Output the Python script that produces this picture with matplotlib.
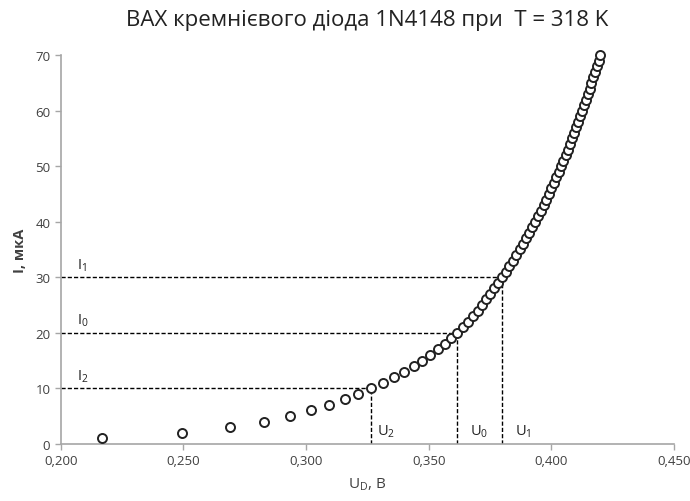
import numpy as np
import matplotlib
matplotlib.use("Agg")
import matplotlib.pyplot as plt
from matplotlib.ticker import FuncFormatter

plt.rcParams['font.family'] = ['Open Sans', 'DejaVu Sans']
plt.rcParams['mathtext.fontset'] = 'custom'
plt.rcParams['mathtext.rm'] = 'Open Sans'

# measured points: current I, мкА and voltage U_D, В
current = list(range(1, 71))
voltage = [
    0.2167, 0.2496, 0.2688, 0.2827, 0.2933, 0.3019, 0.3093, 0.3157, 0.3213, 0.3265,
    0.3314, 0.3358, 0.3400, 0.3438, 0.3473, 0.3506, 0.3536, 0.3565, 0.3591, 0.3617,
    0.3639, 0.3660, 0.3681, 0.3699, 0.3717, 0.3734, 0.3751, 0.3767, 0.3783, 0.3798,
    0.3813, 0.3828, 0.3843, 0.3857, 0.3871, 0.3884, 0.3897, 0.3910, 0.3922, 0.3934,
    0.3945, 0.3957, 0.3968, 0.3979, 0.3990, 0.4000, 0.4010, 0.4020, 0.4029, 0.4039,
    0.4049, 0.4058, 0.4067, 0.4076, 0.4085, 0.4093, 0.4102, 0.4110, 0.4118, 0.4126,
    0.4133, 0.4141, 0.4148, 0.4156, 0.4163, 0.4171, 0.4178, 0.4185, 0.4192, 0.4199,
]

# marked working points (I2, I0, I1) and their voltages
mark_i = [10, 20, 30]
mark_u = [0.3266, 0.3617, 0.3798]
i_names = ['I$_2$', 'I$_0$', 'I$_1$']
u_names = ['U$_2$', 'U$_0$', 'U$_1$']
u_label_x = [0.3291, 0.3668, 0.3850]

fig = plt.figure(figsize=(6.9, 5.02), dpi=100)
ax = fig.add_axes([0.088, 0.114, 0.889, 0.774])

ax.plot(voltage, current, 'o', mfc='white', mec='#222222', ms=6.5, mew=1.4,
        linestyle='none', zorder=3, clip_on=False)

for i, u, nm, ux, un in zip(mark_i, mark_u, i_names, u_label_x, u_names):
    ax.plot([0.2, u], [i, i], color='black', ls=(0, (3, 1.5)), lw=1, zorder=2)
    ax.plot([u, u], [0, i], color='black', ls=(0, (3, 1.5)), lw=1, zorder=2)
    ax.text(0.2065, i + 0.8, nm, fontsize=10.5, color='#222222', va='bottom')
    ax.text(ux, 2.3, un, fontsize=10.5, color='#222222', va='center')

ax.set_xlim(0.2, 0.45)
ax.set_ylim(0, 70)
ax.set_xticks(np.arange(0.2, 0.451, 0.05))
ax.set_yticks(range(0, 71, 10))
ax.xaxis.set_major_formatter(FuncFormatter(lambda v, p: f"{v:.3f}".replace('.', ',')))

for s in ['top', 'right']:
    ax.spines[s].set_visible(False)
for s in ['left', 'bottom']:
    ax.spines[s].set_color('#a6a6a6')
    ax.spines[s].set_linewidth(1.2)
ax.tick_params(direction='out', length=4, width=1, color='#a6a6a6',
               labelsize=9.5, labelcolor='#404040')

ax.set_xlabel('U$_\\mathregular{D}$, В', fontsize=11, color='#404040', labelpad=6)
ax.set_ylabel('I, мкА', fontsize=10.5, color='#404040', fontweight='bold', labelpad=6)
ax.set_title('ВАХ кремнієвого діода 1N4148 при  T = 318 K', fontsize=16,
             color='#222222', pad=22)

fig.savefig('out.png', dpi=100)
